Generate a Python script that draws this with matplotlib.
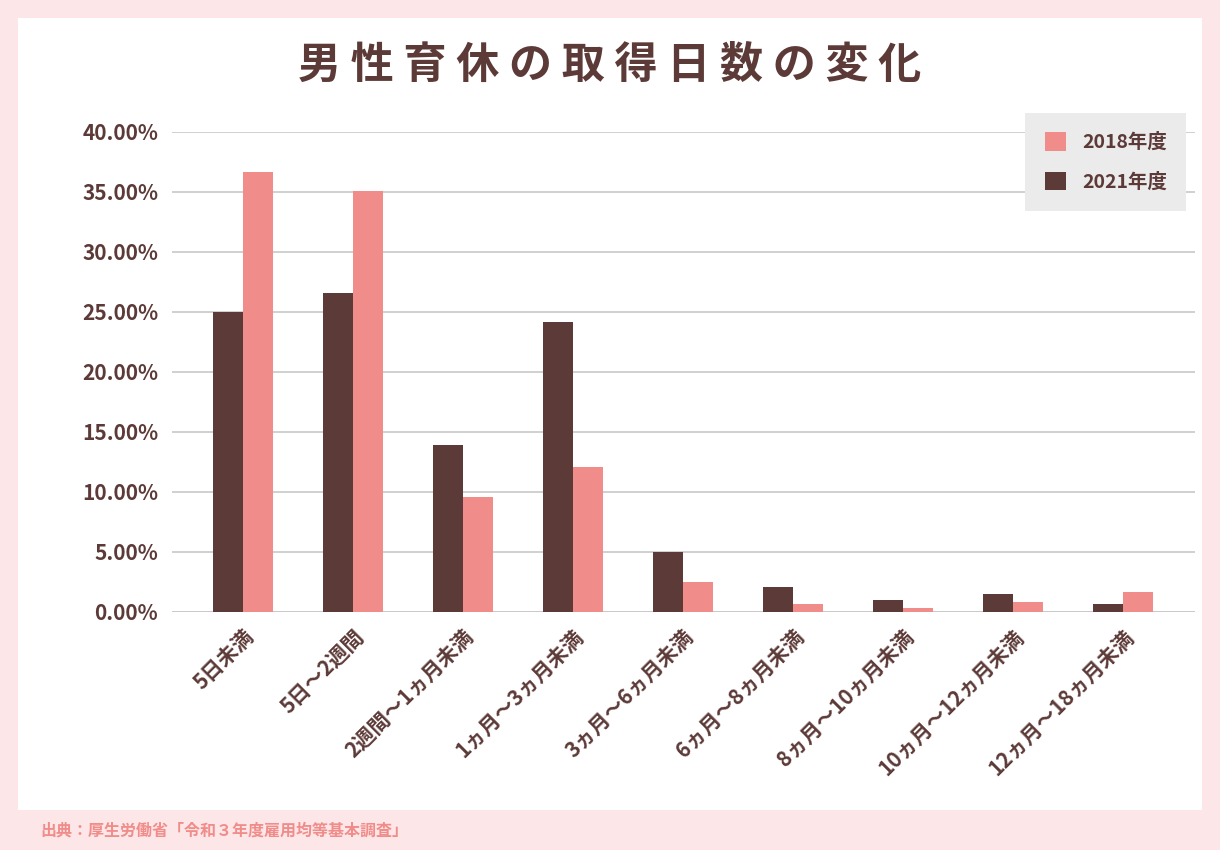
import matplotlib
matplotlib.use("Agg")
import matplotlib.pyplot as plt
from matplotlib.patches import Rectangle
import numpy as np

plt.rcParams['font.family'] = ['Noto Sans CJK JP', 'DejaVu Sans']

categories = ["5日未満", "5日～2週間", "2週間～1ヵ月未満", "1ヵ月～3ヵ月未満", "3ヵ月～6ヵ月未満",
              "6ヵ月～8ヵ月未満", "8ヵ月～10ヵ月未満", "10ヵ月～12ヵ月未満", "12ヵ月～18ヵ月未満"]
v2021 = [25.0, 26.6, 13.9, 24.2, 5.0, 2.1, 1.0, 1.5, 0.7]
v2018 = [36.7, 35.1, 9.6, 12.1, 2.5, 0.7, 0.3, 0.8, 1.7]
yticks = [0, 5, 10, 15, 20, 25, 30, 35, 40]

dark = "#5c3a37"
pink = "#f08c8a"
txt = "#5c3a37"

fig = plt.figure(figsize=(12.2, 8.5), dpi=100)
fig.patch.set_facecolor("#fde6e7")
bg = fig.add_axes([18/1220, 40/850, 1184/1220, 792/850], zorder=0)
bg.set_facecolor("white"); bg.set_xticks([]); bg.set_yticks([])
for s in bg.spines.values():
    s.set_visible(False)

fig.text(0.5, 1 - 65/850, " ".join("男性育休の取得日数の変化"), ha="center", va="center",
         fontsize=31, fontweight="bold", color=txt)
fig.text(40/1220, 1 - 830/850, "出典：厚生労働省「令和３年度雇用均等基本調査」", ha="left", va="center",
         fontsize=11.5, fontweight="bold", color="#f08c8a")

ax = fig.add_axes([172/1220, 238/850, 1023/1220, 480/850], zorder=2)
ax.set_facecolor("none")
x = np.arange(len(categories))
w = 0.273
ax.bar(x - w/2, v2021, w, color=dark, label="2021年度", zorder=3)
ax.bar(x + w/2, v2018, w, color=pink, label="2018年度", zorder=3)
ax.set_xlim(-0.645, 8.655)
ax.set_ylim(0, 40)
ax.set_yticks(yticks)
ax.set_yticklabels([f"{t:.2f}%" for t in yticks], fontsize=15, color=txt, fontweight="bold")
ax.yaxis.grid(True, color="#c8c8c8", lw=1.2, zorder=0)
for s in ax.spines.values():
    s.set_visible(False)
ax.axhline(0, color="#c8c8c8", lw=1.2, zorder=1)
ax.tick_params(axis="both", length=0, pad=10)
ax.set_xticks(x)
ax.set_xticklabels(categories, rotation=45, ha="right", rotation_mode="anchor",
                   fontsize=15, color=txt, fontweight="bold")
h, l = ax.get_legend_handles_labels()
leg = ax.legend([h[1], h[0]], [l[1], l[0]], loc="upper right", bbox_to_anchor=(0.9915, 1.04),
                facecolor="#ebebeb", edgecolor="none", framealpha=1, fancybox=False,
                fontsize=14, handlelength=1.1, handleheight=1.1, borderpad=1.0,
                labelspacing=1.0, handletextpad=0.8, borderaxespad=0)
for t in leg.get_texts():
    t.set_color(txt); t.set_fontweight("bold")
fig.savefig("out.png", dpi=100, facecolor=fig.get_facecolor())
